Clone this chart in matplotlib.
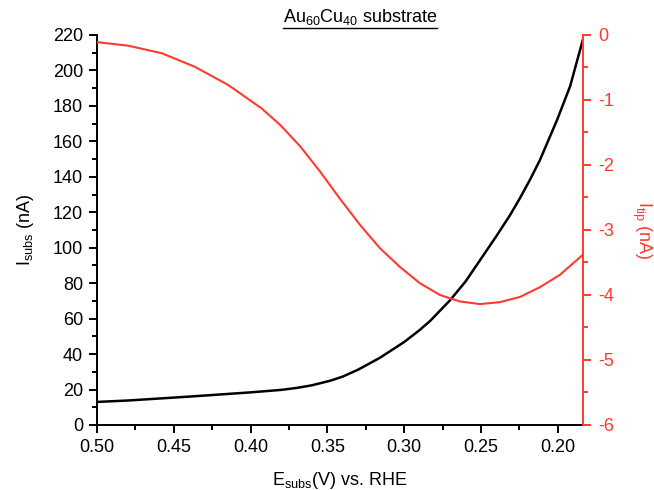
import numpy as np
import matplotlib
matplotlib.use('Agg')
import matplotlib.pyplot as plt
from matplotlib.ticker import MultipleLocator, FormatStrFormatter
from matplotlib.lines import Line2D

plt.rcParams['font.family'] = ['Liberation Sans', 'DejaVu Sans']
plt.rcParams['mathtext.default'] = 'regular'
plt.rcParams['axes.unicode_minus'] = False
plt.rcParams['font.size'] = 13

RED = '#ff3b30'

# substrate current (nA) vs potential (V)
E_subs = [0.500, 0.480, 0.460, 0.440, 0.420, 0.400, 0.380, 0.370, 0.360, 0.348,
          0.340, 0.330, 0.316, 0.300, 0.290, 0.283, 0.270, 0.260, 0.2506, 0.240,
          0.231, 0.2246, 0.218, 0.2116, 0.2005, 0.192, 0.1836]
I_subs = [13.0, 13.8, 14.9, 16.0, 17.2, 18.4, 19.8, 20.9, 22.4, 25.0,
          27.3, 31.2, 37.8, 46.8, 53.5, 58.8, 70.5, 81.0, 93.0, 106.5,
          118.5, 128.0, 138.5, 149.5, 172.0, 191.0, 217.5]

# tip current (nA)
E_tip = [0.500, 0.4796, 0.4579, 0.4362, 0.4145, 0.3928, 0.3809, 0.3678,
         0.3548, 0.3418, 0.3288, 0.3158, 0.3027, 0.2897, 0.2767, 0.2637, 0.2506,
         0.2376, 0.2246, 0.2116, 0.1986, 0.1836]
I_tip = [-0.11, -0.165, -0.28, -0.49, -0.77, -1.13, -1.38, -1.71,
         -2.10, -2.52, -2.92, -3.28, -3.57, -3.82, -4.00, -4.10, -4.14,
         -4.11, -4.03, -3.88, -3.69, -3.38]

fig = plt.figure(figsize=(6.54, 4.90), dpi=100)
ax = fig.add_axes([0.1483, 0.1327, 0.7431, 0.7959])
ax2 = ax.twinx()

ax.plot(E_subs, I_subs, color='black', lw=1.8)
ax2.plot(E_tip, I_tip, color=RED, lw=1.5)

ax.set_xlim(0.50, 0.1836)
ax.set_ylim(0, 220)
ax2.set_ylim(-6, 0)

ax.xaxis.set_major_locator(MultipleLocator(0.05))
ax.xaxis.set_minor_locator(MultipleLocator(0.025))
ax.xaxis.set_major_formatter(FormatStrFormatter('%.2f'))
ax.yaxis.set_major_locator(MultipleLocator(20))
ax.yaxis.set_minor_locator(MultipleLocator(10))
ax2.yaxis.set_major_locator(MultipleLocator(1))
ax2.yaxis.set_minor_locator(MultipleLocator(0.5))

for a in (ax, ax2):
    a.spines['top'].set_visible(False)
    for s in a.spines.values():
        s.set_linewidth(1.4)
ax.spines['right'].set_visible(False)
ax2.spines['left'].set_visible(False)
ax2.spines['bottom'].set_visible(False)
ax2.spines['right'].set_color(RED)

ax.tick_params(which='major', direction='out', length=6, width=1.4, pad=4)
ax.tick_params(which='minor', direction='out', length=3.5, width=1.4)
ax2.tick_params(which='major', direction='out', length=6, width=1.4, colors=RED, pad=5)
ax2.tick_params(which='minor', direction='out', length=3.5, width=1.4, colors=RED)

ax.set_xlabel('E$_{subs}$(V) vs. RHE', labelpad=10)
ax.set_ylabel('I$_{subs}$ (nA)', labelpad=12)
ax2.set_ylabel('I$_{tip}$ (nA)', color=RED, rotation=270, labelpad=28)

fig.text(0.551, 0.955, 'Au$_{60}$Cu$_{40}$ substrate', ha='center', va='baseline', fontsize=13)
fig.add_artist(Line2D([0.433, 0.668], [0.942, 0.942], transform=fig.transFigure,
                      color='black', lw=1.0))

fig.savefig('out.png', dpi=100)
